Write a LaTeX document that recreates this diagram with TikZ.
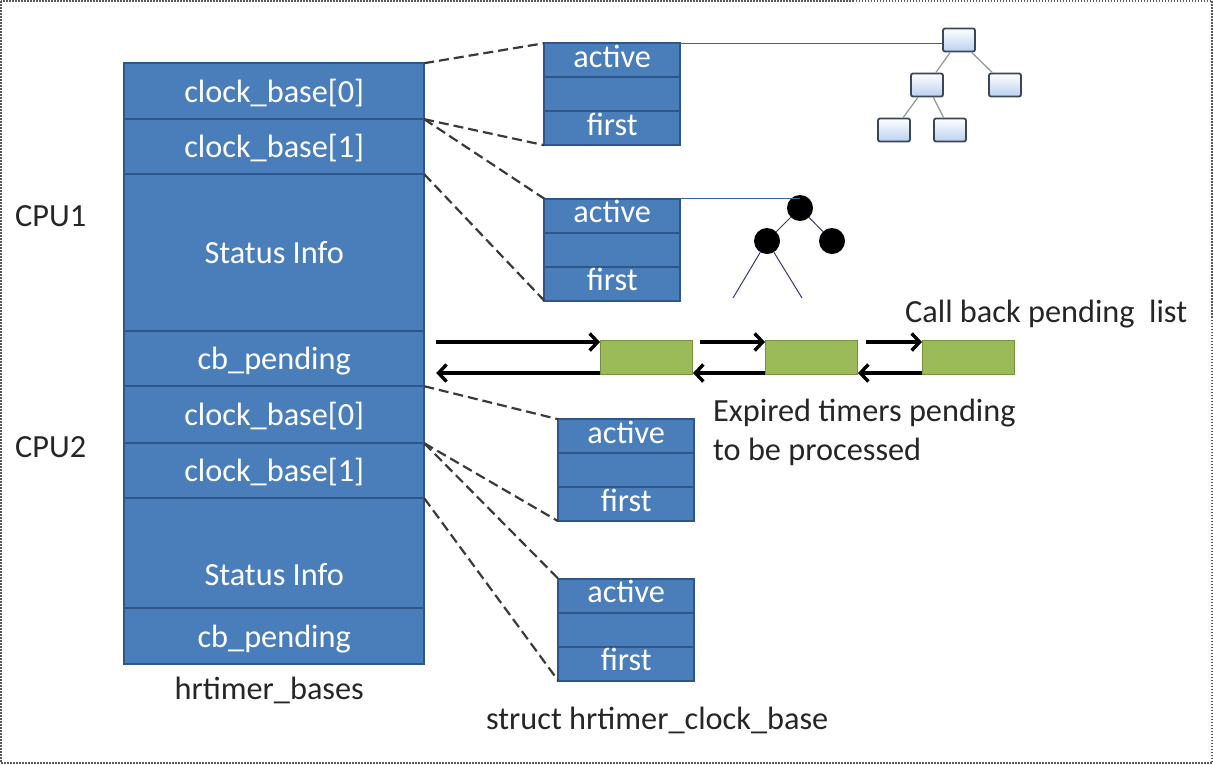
\documentclass[tikz,border=0pt]{standalone}
\usepackage{fontspec}
\setmainfont{Carlito}
\usetikzlibrary{matrix,positioning,calc,arrows.meta}
\definecolor{boxblue}{HTML}{4A7EBB}
\definecolor{boxline}{HTML}{2F5689}
\definecolor{listgreen}{HTML}{9BBB59}
\definecolor{listline}{HTML}{76923C}
\definecolor{ptrgray}{HTML}{3A3A3A}
\definecolor{treeline}{HTML}{3B4656}
\definecolor{treefill}{HTML}{B9D1F0}
\tikzset{myrow/.style args = {(#1,#2)}{%
		row #1/.style={nodes={minimum height=#2}}}}
\tikzset{%
	cell/.style={draw=boxline, line width=2pt, fill=boxblue, text=white,
		inner sep=0pt, outer sep=0pt, text height=22pt, text depth=8pt},
	listbox/.style={draw=listline, line width=1pt, fill=listgreen,
		minimum width=92pt, minimum height=34pt, inner sep=0pt, outer sep=0pt},
	ptr/.style={draw=ptrgray, line width=2.2pt, dash pattern=on 10pt off 5pt},
	listarrow/.style={line width=3.4pt, -{Straight Barb[length=8pt,width=17pt]}},
	lbl/.style={inner sep=0pt, text=black!85},
	treebox/.style={draw=treeline, line width=1.8pt, rounded corners=2pt,
		top color=white, bottom color=treefill, minimum width=32pt,
		minimum height=23pt, inner sep=0pt},
	treeedge/.style={draw=gray!80, line width=1.3pt},
	dot/.style={circle, fill=black, minimum size=26pt, inner sep=0pt},
	dotedge/.style={draw=gray!60!blue!70!black, line width=1pt},
	rootline/.style={draw=boxblue!80!black, line width=1pt}
}

\begin{document}
\begin{tikzpicture}[x=1pt, y=-1pt, font=\fontsize{32.3}{39}\selectfont]
		\useasboundingbox (0,0) rectangle (1213,764);
		\draw[gray!70!black, line width=1.5pt, dash pattern=on 1.5pt off 1.5pt] (1,1) rectangle (1212,763);
		
		\matrix (bases) [matrix of nodes, nodes in empty cells, anchor=north west,
		inner sep=0pt, row sep=-2pt,
		nodes={cell, minimum width=300pt, text depth=0pt},
		myrow/.list={(1,56pt),(2,55pt),(3,157pt),(4,55pt),(5,57pt),(6,55pt),(7,110pt),(8,56pt)}
		] at (123,62)
		{
			clock\_base[0]\\
			clock\_base[1]\\
			Status Info\\
			cb\_pending\\
			clock\_base[0]\\
			clock\_base[1]\\
			|[text height=64pt]| Status Info\\
			cb\_pending\\
		};
		
		\matrix (sa) [matrix of nodes, nodes in empty cells, anchor=north west,
		inner sep=0pt, row sep=-2pt,
		nodes={cell, minimum width=136pt, minimum height=34pt}] at (543,42)
		{
			active\\
			\\
			first\\
		};
		\matrix (sb) [below=51pt of sa, matrix of nodes, nodes in empty cells,
		inner sep=0pt, row sep=-2pt,
		nodes={cell, minimum width=136pt, minimum height=34pt}]
		{
			active\\
			\\
			first\\
		};
		\matrix (sc) [matrix of nodes, nodes in empty cells, anchor=north west,
		inner sep=0pt, row sep=-2pt,
		nodes={cell, minimum width=136pt, minimum height=34pt}] at (557,418)
		{
			active\\
			\\
			first\\
		};
		\matrix (sd) [below=55pt of sc, matrix of nodes, nodes in empty cells,
		inner sep=0pt, row sep=-2pt,
		nodes={cell, minimum width=136pt, minimum height=34pt}]
		{
			active\\
			\\
			first\\
		};
		
		% pointers to the clock bases
		\draw[ptr] (bases-1-1.north east) -- (sa-1-1.north west);
		\draw[ptr] (bases-1-1.south east) -- (sa-3-1.south west);
		\draw[ptr] (bases-2-1.north east) -- (sb-1-1.north west);
		\draw[ptr] (bases-2-1.south east) -- (sb-3-1.south west);
		\draw[ptr] (bases-5-1.north east) -- (sc-1-1.north west);
		\draw[ptr] (bases-5-1.south east) -- (sc-3-1.south west);
		\draw[ptr] (bases-6-1.north east) -- (sd-1-1.north west);
		\draw[ptr] (bases-6-1.south east) -- (sd-3-1.south west);
		
		% timer tree
		\node[treebox] (t0) at (959,40) {};
		\node[treebox] (t1) at (927,85) {};
		\node[treebox] (t2) at (1005,85) {};
		\node[treebox] (t3) at (894,130) {};
		\node[treebox] (t4) at (950,130) {};
		\draw[treeedge] (t0) -- (t1);
		\draw[treeedge] (t0) -- (t2);
		\draw[treeedge] (t1) -- (t3);
		\draw[treeedge] (t1) -- (t4);
		\draw[rootline] (sa-1-1.north east) -- (sa-1-1.north east -| t0.west);
		
		% rb tree
		\node[dot] (c0) at (800,208) {};
		\node[dot] (c1) at (767,241) {};
		\node[dot] (c2) at (832,241) {};
		\coordinate (c1l) at (733,298);
		\coordinate (c1r) at (802,298);
		\draw[dotedge] (c0) -- (c1);
		\draw[dotedge] (c0) -- (c2);
		\draw[dotedge] (c1) -- (c1l);
		\draw[dotedge] (c1) -- (c1r);
		\draw[rootline] (sb-1-1.north east) -- (sb-1-1.north east -| c0.north);
		
		% pending list
		\node[listbox, anchor=north west] (cb1) at (600,340) {};
		\node[listbox, right=73pt of cb1] (cb2) {};
		\node[listbox, right=65pt of cb2] (cb3) {};
		\draw[listarrow] ($(bases-4-1.east |- cb1.north)+(12,2)$) -- ($(cb1.north west)+(0,2)$);
		\draw[listarrow] ($(cb1.south west)+(0,-1)$) -- ($(bases-4-1.east |- cb1.south)+(12,-1)$);
		\draw[listarrow] ($(cb1.north east)+(8,2)$) -- ($(cb2.north west)+(0,2)$);
		\draw[listarrow] ($(cb2.south west)+(0,-1)$) -- ($(cb1.south east)+(1,-1)$);
		\draw[listarrow] ($(cb2.north east)+(9,2)$) -- ($(cb3.north west)+(0,2)$);
		\draw[listarrow] ($(cb3.south west)+(0,-1)$) -- ($(cb2.south east)+(1,-1)$);
		
		\node[lbl, anchor=west] (cpu1) at (15,216) {CPU1};
		\node[lbl, anchor=west] (cpu2) at (15,447) {CPU2};
		\node[lbl, below=11pt of bases, xshift=-5pt] (basesname) {hrtimer\_bases};
		\node[lbl, below=25pt of sd, xshift=31pt] (sdname) {struct hrtimer\_clock\_base};
		\node[lbl, anchor=base west] (cbname) at (905,322) {Call back pending\ \ list};
		\node[lbl, align=left, anchor=north west] (expname) at (713,399) {Expired timers pending\\to be processed};
\end{tikzpicture}
\end{document}
